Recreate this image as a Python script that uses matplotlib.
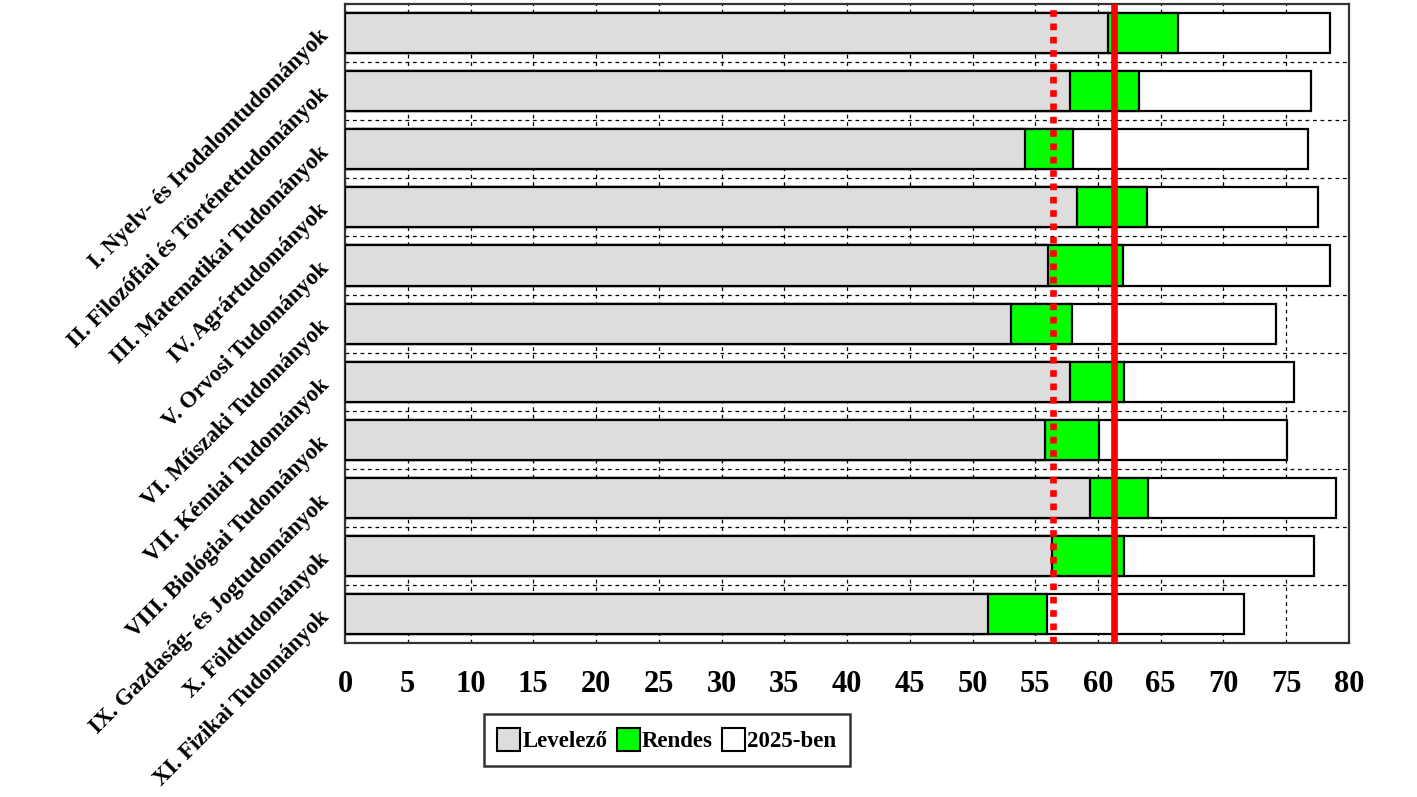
import numpy as np
import matplotlib
matplotlib.use("Agg")
import matplotlib.pyplot as plt
from matplotlib.patches import Rectangle

plt.rcParams['font.family'] = ['Liberation Serif', 'DejaVu Serif']
plt.rcParams['font.weight'] = 'bold'

# Data
categories = [
    "I. Nyelv- és Irodalomtudományok",
    "II. Filozófiai és Történettudományok",
    "III. Matematikai Tudományok",
    "IV. Agrártudományok",
    "V. Orvosi Tudományok",
    "VI. Műszaki Tudományok",
    "VII. Kémiai Tudományok",
    "VIII. Biológiai Tudományok",
    "IX. Gazdaság- és Jogtudományok",
    "X. Földtudományok",
    "XI. Fizikai Tudományok",
]
levelezo = [60.8, 57.8, 54.2, 58.3, 56.0, 53.1, 57.8, 55.8, 59.4, 56.3, 51.2]
rendes = [66.4, 63.3, 58.0, 63.9, 62.0, 57.9, 62.1, 60.1, 64.0, 62.1, 55.9]
ben_2025 = [78.5, 77.0, 76.7, 77.5, 78.5, 74.2, 75.6, 75.1, 79.0, 77.2, 71.6]
dotted_ref = 56.4
solid_ref = 61.25
series_names = ["Levelező", "Rendes", "2025-ben"]
x_ticks = list(range(0, 85, 5))

fig = plt.figure(figsize=(14.17, 7.97), dpi=100)
ax = fig.add_axes([0.2435, 0.193, 0.7085, 0.802])

y = np.arange(len(categories))
h = 0.69
ax.barh(y, ben_2025, height=h, color='white', edgecolor='black', linewidth=1.6, zorder=2)
ax.barh(y, rendes, height=h, color='#00ff00', edgecolor='black', linewidth=1.6, zorder=3)
ax.barh(y, levelezo, height=h, color='#dddddd', edgecolor='black', linewidth=1.6, zorder=4)

ax.axvline(dotted_ref, color='red', linewidth=4.8, linestyle=(0, (1, 1)), zorder=6)
ax.axvline(solid_ref, color='red', linewidth=4.8, zorder=6)

ax.set_xlim(0, 80)
ax.set_ylim(len(categories) - 0.5, -0.5)
ax.set_xticks(x_ticks)
ax.set_xticklabels([str(t) for t in x_ticks], fontsize=22, fontweight='bold')
ax.tick_params(axis='x', length=0, pad=19)

ax.set_yticks(y)
ax.set_yticklabels(categories, fontsize=16.5, fontweight='bold', rotation=45,
                   ha='right', va='center', rotation_mode='anchor')
ax.tick_params(axis='y', length=0, pad=14)
ax.set_yticks(np.arange(0.5, len(categories) - 1, 1), minor=True)
ax.tick_params(axis='y', which='minor', length=0)

ax.set_axisbelow(True)
ax.grid(axis='x', which='major', color='black', linestyle=(0, (3, 3)), linewidth=0.9)
ax.grid(axis='y', which='minor', color='black', linestyle=(0, (3, 3)), linewidth=0.9)
for sp in ax.spines.values():
    sp.set_linewidth(1.6)
    sp.set_color('#333333')

handles = [Rectangle((0, 0), 1, 1, facecolor=c, edgecolor='black', linewidth=1.5)
           for c in ['#dddddd', '#00ff00', 'white']]
leg = ax.legend(handles, series_names, loc='center', bbox_to_anchor=(667 / 1417, 1 - 740 / 797),
                bbox_transform=fig.transFigure, ncol=3, frameon=True, fancybox=False,
                handlelength=1.0, handleheight=1.15, handletextpad=0.1, columnspacing=0.4,
                borderpad=0.6, prop={'weight': 'bold', 'size': 16.5})
leg.get_frame().set_edgecolor('black')
leg.get_frame().set_linewidth(1.8)

fig.savefig("out.png", dpi=100)
